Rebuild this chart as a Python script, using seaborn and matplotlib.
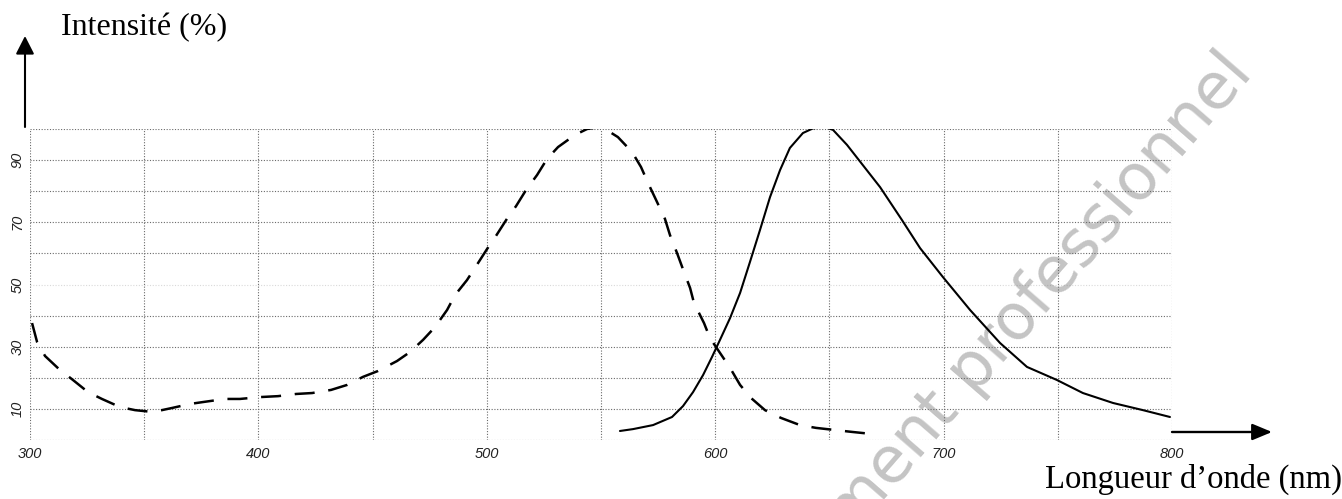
import matplotlib
matplotlib.use("Agg")
import matplotlib.pyplot as plt
import seaborn as sns
import pandas as pd

# ---- data ----
abs_nm = [300.9, 303.1, 306.6, 312.7, 318.8, 325.4, 331.5, 339.4, 346.0, 353.9,
          362.2, 370.1, 375.7, 385.4, 391.9, 400.7, 408.6, 416.5, 423.5, 431.8,
          438.8, 445.8, 452.4, 460.7, 466.4, 472.1, 477.3, 482.6, 486.1, 491.3,
          495.3, 500.1, 504.0, 508.8, 512.8, 517.2, 522.0, 526.4, 531.2, 538.6,
          543.9, 548.0, 551.8, 557.4, 563.6, 567.5, 571.0, 574.1, 578.0, 580.2,
          583.3, 586.0, 589.0, 590.7, 595.1, 597.7, 602.1, 606.5, 610.9, 615.7,
          621.8, 628.8, 637.1, 644.1, 652.5, 659.9, 669.1]
abs_int = [37.6, 31.5, 27.0, 22.8, 19.3, 15.4, 13.2, 10.6, 9.6, 9.0,
           10.3, 11.6, 12.2, 13.2, 13.2, 13.8, 14.1, 14.8, 15.1, 16.1,
           17.7, 20.3, 22.2, 25.4, 28.3, 32.2, 36.3, 41.8, 46.6, 51.4,
           55.9, 61.4, 65.6, 71.1, 75.2, 80.4, 85.2, 90.4, 94.2, 98.1,
           100.0, 100.5, 100.0, 97.4, 92.6, 87.8, 82.0, 77.2, 71.1, 65.9,
           60.1, 54.7, 48.9, 44.1, 37.6, 32.8, 28.0, 23.2, 17.7, 13.5,
           9.6, 7.1, 4.8, 3.9, 3.2, 2.6, 1.9]

em_nm = [558.3, 564.0, 572.8, 581.1, 585.9, 590.3, 594.7, 598.6, 602.1, 606.5,
         610.9, 615.2, 619.6, 624.0, 628.4, 632.7, 638.4, 642.8, 648.1, 651.6,
         657.7, 672.2, 681.8, 689.7, 699.7, 711.6, 724.7, 736.5, 749.6, 761.0,
         774.2, 787.3, 799.1]
em_int = [2.9, 3.5, 4.8, 7.4, 10.9, 15.4, 20.9, 26.7, 32.2, 39.2,
          47.3, 57.2, 67.5, 78.1, 86.8, 93.9, 98.7, 100.2, 100.6, 99.7,
          94.9, 81.3, 70.7, 61.7, 52.4, 41.8, 31.2, 23.5, 19.3, 15.1,
          11.9, 9.6, 7.4]

x_ticks = [300, 400, 500, 600, 700, 800]
x_tick_labels = ["300", "400", "500", "600", "700", "800"]
x_grid = [300, 350, 400, 450, 500, 550, 600, 650, 700, 750, 800]
y_ticks = [10, 30, 50, 70, 90]
y_tick_labels = ["10", "30", "50", "70", "90"]
y_grid = [0, 10, 20, 30, 40, 50, 60, 70, 80, 90, 100]

y_label = "Intensité (%)"
x_label = "Longueur d\u2019onde (nm)"
watermark = "Enseignement professionnel"

# ---- figure ----
sns.set_style("white")
plt.rcParams["font.family"] = ["DejaVu Sans"]

W, H = 1342, 499
fig = plt.figure(figsize=(W / 100, H / 100), dpi=100)
ax = fig.add_axes([30 / W, 1 - 440 / H, (1172 - 30) / W, (440 - 129) / H])
ax.patch.set_alpha(0)

# watermark behind everything
fig.text(1254 / W, 1 - 74 / H, watermark, rotation=49, rotation_mode="anchor",
         ha="right", va="baseline", fontsize=46, color="#c4c4c4",
         family="DejaVu Sans", zorder=-5)

# grid
for gx in x_grid:
    ax.axvline(gx, color="#6a6a6a", lw=0.8, ls=(0, (1, 1.5)), zorder=1)
for gy in y_grid:
    a = 0.25 if gy == 50 else 1.0
    ax.axhline(gy, color="#6a6a6a", lw=0.8, ls=(0, (1, 1.5)), alpha=a, zorder=1)

df_abs = pd.DataFrame({"nm": abs_nm, "I": abs_int})
df_em = pd.DataFrame({"nm": em_nm, "I": em_int})
sns.lineplot(data=df_abs, x="nm", y="I", ax=ax, color="black", lw=1.8,
             sort=False, estimator=None, zorder=3)
ax.lines[-1].set_dashes((8, 5.5))
sns.lineplot(data=df_em, x="nm", y="I", ax=ax, color="black", lw=1.5,
             sort=False, estimator=None, zorder=3)

ax.set_xlim(300, 800)
ax.set_ylim(0, 100)
ax.set_xticks(x_ticks)
ax.set_xticklabels(x_tick_labels)
ax.set_yticks(y_ticks)
ax.set_yticklabels(y_tick_labels, rotation=90, va="center")
for lab in ax.get_xticklabels() + ax.get_yticklabels():
    lab.set_fontstyle("italic")
    lab.set_family("Liberation Sans")
    lab.set_fontsize(10.5)
    lab.set_color("#222222")
ax.tick_params(axis="x", length=0, pad=5)
ax.tick_params(axis="y", length=0, pad=4)
ax.set_xlabel("")
ax.set_ylabel("")
for s in ax.spines.values():
    s.set_visible(False)

# axis arrows
ax.annotate("", xy=(25 / W, 1 - 36 / H), xytext=(25 / W, 1 - 127 / H),
            xycoords="figure fraction", textcoords="figure fraction",
            arrowprops=dict(arrowstyle="-|>,head_length=0.55,head_width=0.28",
                            mutation_scale=20, lw=1.5, color="black",
                            shrinkA=0, shrinkB=0))
ax.annotate("", xy=(1272 / W, 1 - 432 / H), xytext=(1172 / W, 1 - 432 / H),
            xycoords="figure fraction", textcoords="figure fraction",
            arrowprops=dict(arrowstyle="-|>,head_length=0.6,head_width=0.25",
                            mutation_scale=20, lw=1.7, color="black",
                            shrinkA=0, shrinkB=0))

fig.text(61 / W, 1 - 28 / H, y_label, ha="left", va="center",
         fontsize=23, family="Liberation Serif", color="black")
fig.text(1045 / W, 1 - 488 / H, x_label, ha="left", va="baseline",
         fontsize=23.5, family="Liberation Serif", color="black")

fig.savefig("out.png", dpi=100)
